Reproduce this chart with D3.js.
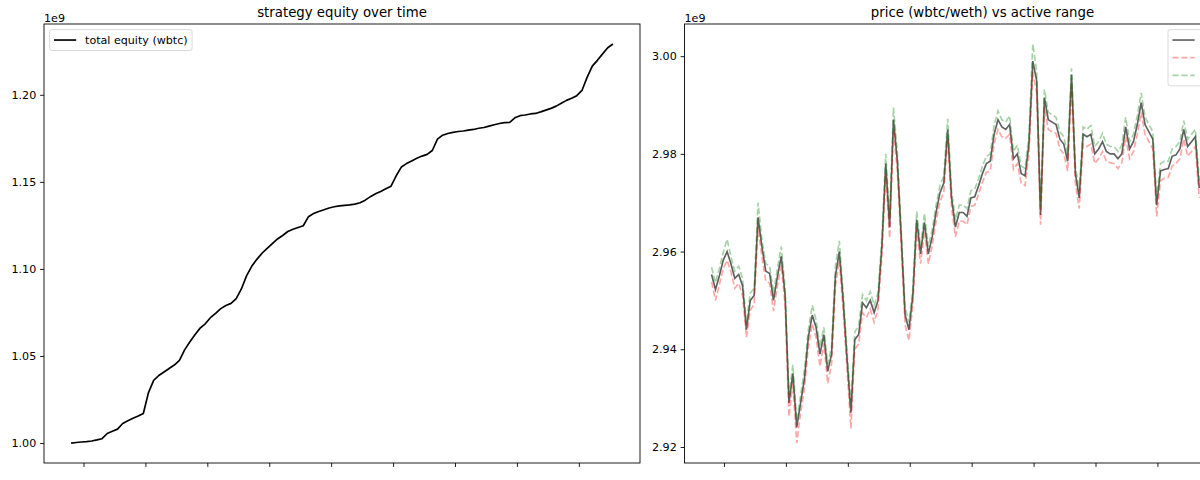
<!DOCTYPE html>
<html><head><meta charset="utf-8">
<script src="https://cdn.jsdelivr.net/npm/d3@7"></script>
<style>
body{margin:0;background:#fff}
svg{display:block}
text{font-family:"DejaVu Sans",sans-serif;fill:#000}
</style>
</head><body>
<svg id="chart" width="1200" height="480"></svg>
<script>
// ---------------- data ----------------
const equityStepHours = 2;
const equity = [
1.0000,1.0003,1.0006,1.0008,1.0012,1.0018,1.0025,1.0055,1.0068,1.0080,
1.0112,1.0128,1.0142,1.0155,1.0170,1.0290,1.0360,1.0388,1.0408,1.0428,
1.0448,1.0475,1.0535,1.0580,1.0622,1.0660,1.0685,1.0720,1.0745,1.0772,
1.0790,1.0802,1.0830,1.0885,1.0960,1.1015,1.1055,1.1090,1.1118,1.1145,
1.1172,1.1192,1.1215,1.1228,1.1238,1.1248,1.1300,1.1318,1.1330,1.1340,
1.1350,1.1357,1.1362,1.1365,1.1368,1.1372,1.1380,1.1395,1.1415,1.1432,
1.1445,1.1460,1.1475,1.1535,1.1585,1.1605,1.1620,1.1635,1.1648,1.1658,
1.1680,1.1745,1.1768,1.1778,1.1784,1.1789,1.1792,1.1797,1.1801,1.1808,
1.1812,1.1820,1.1828,1.1835,1.1840,1.1842,1.1868,1.1880,1.1884,1.1890,
1.1893,1.1902,1.1912,1.1922,1.1935,1.1952,1.1968,1.1980,1.1995,1.2025,
1.2100,1.2165,1.2198,1.2235,1.2270,1.2292
];

const priceStepHours = 1.5;
const price = [
2.9553,2.9522,2.9550,2.9582,2.9600,2.9575,2.9545,2.9553,2.9530,2.9440,
2.9500,2.9510,2.9670,2.9610,2.9560,2.9555,2.9500,2.9548,2.9590,2.9510,
2.9290,2.9350,2.9240,2.9290,2.9340,2.9425,2.9470,2.9445,2.9390,2.9430,
2.9355,2.9390,2.9550,2.9600,2.9500,2.9380,2.9270,2.9420,2.9430,2.9495,
2.9485,2.9500,2.9475,2.9500,2.9610,2.9780,2.9650,2.9870,2.9785,2.9630,
2.9470,2.9440,2.9510,2.9665,2.9595,2.9660,2.9595,2.9630,2.9680,2.9720,
2.9740,2.9850,2.9710,2.9650,2.9680,2.9680,2.9672,2.9710,2.9712,2.9735,
2.9760,2.9780,2.9785,2.9840,2.9870,2.9855,2.9850,2.9860,2.9790,2.9800,
2.9760,2.9755,2.9820,2.9990,2.9950,2.9675,2.9915,2.9870,2.9865,2.9860,
2.9830,2.9820,2.9785,2.9962,2.9760,2.9710,2.9840,2.9835,2.9840,2.9800,
2.9810,2.9825,2.9805,2.9800,2.9800,2.9790,2.9800,2.9855,2.9810,2.9825,
2.9860,2.9905,2.9860,2.9845,2.9830,2.9695,2.9765,2.9768,2.9770,2.9795,
2.9798,2.9810,2.9850,2.9815,2.9825,2.9835,2.9730
];
const rangeLower = [
2.9538,2.9500,2.9532,2.9565,2.9582,2.9558,2.9525,2.9535,2.9510,2.9425,
2.9480,2.9492,2.9650,2.9590,2.9540,2.9535,2.9478,2.9530,2.9572,2.9490,
2.9262,2.9330,2.9208,2.9270,2.9320,2.9405,2.9452,2.9425,2.9365,2.9412,
2.9330,2.9370,2.9530,2.9582,2.9480,2.9360,2.9238,2.9400,2.9410,2.9475,
2.9465,2.9482,2.9455,2.9482,2.9590,2.9760,2.9628,2.9848,2.9765,2.9610,
2.9450,2.9418,2.9490,2.9645,2.9575,2.9642,2.9575,2.9612,2.9662,2.9702,
2.9722,2.9830,2.9690,2.9630,2.9662,2.9662,2.9655,2.9692,2.9695,2.9718,
2.9742,2.9762,2.9765,2.9820,2.9850,2.9835,2.9832,2.9840,2.9768,2.9780,
2.9740,2.9735,2.9800,2.9968,2.9925,2.9655,2.9895,2.9850,2.9845,2.9842,
2.9810,2.9800,2.9765,2.9940,2.9740,2.9688,2.9820,2.9815,2.9820,2.9780,
2.9790,2.9805,2.9785,2.9782,2.9780,2.9770,2.9782,2.9835,2.9790,2.9805,
2.9840,2.9885,2.9840,2.9825,2.9810,2.9672,2.9745,2.9750,2.9752,2.9775,
2.9780,2.9790,2.9830,2.9795,2.9805,2.9815,2.9710
];
const rangeUpper = [
2.9568,2.9536,2.9565,2.9598,2.9625,2.9590,2.9560,2.9570,2.9545,2.9455,
2.9515,2.9525,2.9700,2.9625,2.9575,2.9570,2.9515,2.9565,2.9610,2.9525,
2.9305,2.9368,2.9255,2.9305,2.9360,2.9440,2.9490,2.9460,2.9405,2.9445,
2.9370,2.9405,2.9570,2.9622,2.9515,2.9395,2.9285,2.9435,2.9448,2.9512,
2.9500,2.9518,2.9490,2.9515,2.9628,2.9800,2.9668,2.9895,2.9802,2.9645,
2.9485,2.9455,2.9525,2.9682,2.9610,2.9678,2.9610,2.9645,2.9695,2.9735,
2.9755,2.9872,2.9725,2.9665,2.9695,2.9695,2.9688,2.9725,2.9728,2.9750,
2.9775,2.9795,2.9800,2.9858,2.9888,2.9870,2.9865,2.9878,2.9805,2.9818,
2.9775,2.9770,2.9838,3.0025,2.9968,2.9690,2.9932,2.9885,2.9880,2.9875,
2.9845,2.9835,2.9800,2.9975,2.9775,2.9725,2.9855,2.9850,2.9858,2.9815,
2.9825,2.9842,2.9820,2.9815,2.9815,2.9805,2.9818,2.9875,2.9825,2.9840,
2.9878,2.9925,2.9875,2.9860,2.9845,2.9710,2.9780,2.9785,2.9785,2.9810,
2.9815,2.9825,2.9868,2.9830,2.9840,2.9850,2.9745
];

const xTickHours = [4.8, 28.8, 52.8, 76.8, 100.8, 124.8, 148.8, 172.8, 196.8];
const equityTicks = [1.00, 1.05, 1.10, 1.15, 1.20];
const priceTicks = [2.92, 2.94, 2.96, 2.98, 3.00];
const titles = ["strategy equity over time", "price (wbtc/weth) vs active range"];
const offsetLabel = "1e9";
const equityLegend = ["total equity (wbtc)"];
// right legend labels fall outside the visible picture (cropped at the right edge)
const priceLegend = ["price", "range lower", "range upper"];

// ---------------- layout ----------------
const FS = 11.1, TITLE_FS = 13.3;
const LW = 1.67, SPINE = 0.89, TICK = 3.9, PAD = 3.9;
const panels = [
  {x0: 44, x1: 640, y0: 24, y1: 463},
  {x0: 684.5, x1: 1280.5, y0: 24, y1: 463}
];

const svg = d3.select("#chart");

function padded(ext){ const m = (ext[1]-ext[0])*0.05; return [ext[0]-m, ext[1]+m]; }

const eqPts = equity.map((v,i)=>({t:i*equityStepHours, v}));
const prPts = price.map((v,i)=>({t:i*priceStepHours, p:v, lo:rangeLower[i], hi:rangeUpper[i]}));
const xDomain = padded(d3.extent(eqPts, d=>d.t));

function drawPanel(P, idx, yDomain, yTicks){
  const x = d3.scaleLinear().domain(xDomain).range([P.x0, P.x1]);
  const y = d3.scaleLinear().domain(yDomain).range([P.y1, P.y0]);
  const g = svg.append("g");
  svg.append("clipPath").attr("id","clip"+idx).append("rect")
    .attr("x",P.x0).attr("y",P.y0).attr("width",P.x1-P.x0).attr("height",P.y1-P.y0);

  const ya = g.append("g").attr("transform",`translate(${P.x0},0)`)
    .call(d3.axisLeft(y).tickValues(yTicks).tickFormat(d3.format(".2f"))
      .tickSize(TICK).tickPadding(PAD).tickSizeOuter(0));
  const xa = g.append("g").attr("transform",`translate(0,${P.y1})`)
    .call(d3.axisBottom(x).tickValues(xTickHours).tickFormat("")
      .tickSize(TICK).tickSizeOuter(0));
  [ya,xa].forEach(a=>{
    a.select(".domain").remove();
    a.selectAll("line").attr("stroke","#000").attr("stroke-width",SPINE);
    a.selectAll("text").attr("font-size",FS).attr("font-family","DejaVu Sans").attr("fill","#000");
  });

  g.append("text").attr("x",(P.x0+P.x1)/2).attr("y",P.y0-6.7)
    .attr("text-anchor","middle").attr("font-size",TITLE_FS).text(titles[idx]);
  g.append("text").attr("x",P.x0).attr("y",P.y0-2.4)
    .attr("font-size",FS).text(offsetLabel);

  const plot = g.append("g").attr("clip-path",`url(#clip${idx})`);
  return {x, y, g, plot};
}

function drawLegend(g, entries, styles, left, top, showText){
  const pad = 0.4*FS, hl = 2*FS, htp = 0.8*FS, rowH = 12.1, sp = 0.5*FS;
  const lg = g.append("g");
  const box = lg.append("rect");
  const texts = entries.map(t=> lg.append("text").attr("font-size",FS).text(t));
  const tw = d3.max(texts, t=>t.node().getComputedTextLength());
  const W = pad*2 + hl + htp + tw;
  const H = pad*2 + entries.length*rowH + (entries.length-1)*sp;
  box.attr("x",left).attr("y",top).attr("width",W).attr("height",H).attr("rx",2.2)
    .attr("fill","#fff").attr("fill-opacity",0.8)
    .attr("stroke","#cccccc").attr("stroke-opacity",0.8).attr("stroke-width",SPINE);
  entries.forEach((t,i)=>{
    const cy = top + pad + rowH/2 + i*(rowH+sp);
    const s = styles[i];
    lg.append("line").attr("x1",left+pad).attr("x2",left+pad+hl).attr("y1",cy).attr("y2",cy)
      .attr("stroke",s.color).attr("stroke-opacity",s.opacity).attr("stroke-width",LW)
      .attr("stroke-dasharray",s.dash||null);
    texts[i].attr("x",left+pad+hl+htp).attr("y",cy+4);
  });
  if(!showText) texts.forEach(t=>t.remove());
}

// ---- left panel ----
{
  const P = panels[0];
  const {x, y, g, plot} = drawPanel(P, 0, padded(d3.extent(equity)), equityTicks);
  plot.append("path").datum(eqPts)
    .attr("d", d3.line().x(d=>x(d.t)).y(d=>y(d.v)))
    .attr("fill","none").attr("stroke","#000").attr("stroke-width",LW)
    .attr("stroke-linejoin","round");
  g.append("rect").attr("x",P.x0).attr("y",P.y0).attr("width",P.x1-P.x0).attr("height",P.y1-P.y0)
    .attr("fill","none").attr("stroke","#000").attr("stroke-width",SPINE);
  drawLegend(g, equityLegend, [{color:"#000",opacity:1}], P.x0+0.5*FS, P.y0+0.5*FS, true);
}

// ---- right panel ----
{
  const P = panels[1];
  const lo = d3.min(rangeLower), hi = d3.max(rangeUpper);
  const {x, y, g, plot} = drawPanel(P, 1, padded([lo, hi]), priceTicks);
  const dash = `${3.7*LW},${1.6*LW}`;
  const series = [
    {key:"p", color:"#000", opacity:0.62, dash:null},
    {key:"lo", color:"#ff0000", opacity:0.35, dash},
    {key:"hi", color:"#008000", opacity:0.35, dash}
  ];
  series.forEach(s=>{
    plot.append("path").datum(prPts)
      .attr("d", d3.line().x(d=>x(d.t)).y(d=>y(d[s.key])))
      .attr("fill","none").attr("stroke",s.color).attr("stroke-opacity",s.opacity)
      .attr("stroke-width",LW).attr("stroke-dasharray",s.dash);
  });
  g.append("rect").attr("x",P.x0).attr("y",P.y0).attr("width",P.x1-P.x0).attr("height",P.y1-P.y0)
    .attr("fill","none").attr("stroke","#000").attr("stroke-width",SPINE);
  drawLegend(g, priceLegend, series, 1168, P.y0+0.5*FS, false);
}
</script>
</body></html>
